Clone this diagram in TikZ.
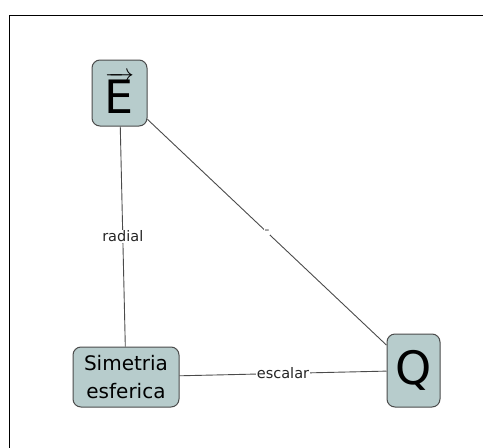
\documentclass[tikz,border=0pt]{standalone}
\usepackage{fontspec}
\setmainfont{DejaVu Sans}
\usetikzlibrary{positioning}
\definecolor{conceptfill}{RGB}{183,204,204}
\definecolor{conceptline}{RGB}{75,75,75}
\tikzset{concept/.style={draw=conceptline,fill=conceptfill,rounded corners=8pt,line width=1pt,align=center,inner sep=0pt},
link/.style={draw=conceptline,line width=0.9pt},
linklabel/.style={fill=white,inner sep=1pt,text=black!85,font=\fontsize{14.5}{14.5}\selectfont}}
\begin{document}
\begin{tikzpicture}[x=1pt,y=-1pt]
\useasboundingbox (0,0) rectangle (483,448);
\draw[line width=1.5pt] (9.5,448) -- (9.5,15.5) -- (483,15.5);
% concepts
\node (efield) at (119.5,93) [concept, minimum width=55pt, minimum height=66pt, font=\fontsize{46}{46}\selectfont] {$\overrightarrow{\mbox{E}}$};
\node (sphere) at (126,377) [concept, minimum width=106pt, minimum height=60pt, font=\fontsize{20}{28}\selectfont] {Simetria\\esferica};
\node (charge) at (413.5,370.5) [concept, minimum width=53pt, minimum height=73pt, font=\fontsize{46}{46}\selectfont] {Q};
% links
\draw[link] (efield) -- (sphere) node[midway, linklabel] {radial};
\draw[link] (sphere) -- (charge) node[midway, linklabel] {escalar};
\draw[link] (efield) -- (charge) node[midway, linklabel, inner sep=0.5pt, text=black!60] {-};
\end{tikzpicture}
\end{document}
